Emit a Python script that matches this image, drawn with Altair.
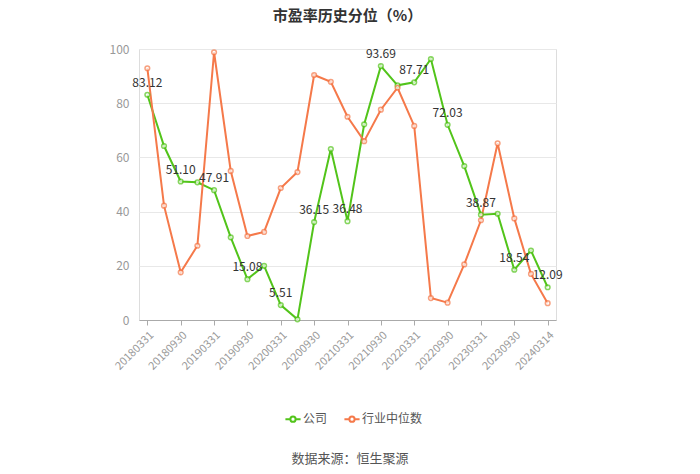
import altair as alt
import pandas as pd

dates = ["20180331", "20180630", "20180930", "20181231",
         "20190331", "20190630", "20190930", "20191231",
         "20200331", "20200630", "20200930", "20201231",
         "20210331", "20210630", "20210930", "20211231",
         "20220331", "20220630", "20220930", "20221231",
         "20230331", "20230630", "20230930", "20231231",
         "20240314"]

company = [83.12, 64.2, 51.10, 50.8, 47.91, 30.5, 15.08, 20.0, 5.51, 0.26,
           36.15, 63.1, 36.48, 72.2, 93.69, 86.6, 87.71, 96.3, 72.03, 56.8,
           38.87, 39.2, 18.54, 25.6, 12.09]

industry = [92.9, 42.2, 17.6, 27.4, 98.8, 55.0, 31.0, 32.5, 48.7, 54.6,
            90.4, 87.9, 75.0, 66.0, 77.6, 85.7, 71.6, 8.1, 6.4, 20.5,
            36.8, 65.2, 37.5, 17.0, 6.2]

series_names = ["公司", "行业中位数"]
colors = ["#52c41a", "#f5794a"]
tick_labels = dates[::2]

FONT = "Noto Sans CJK SC"
W, H = 417, 271

rows = []
for i, d in enumerate(dates):
    rows.append({"date": d, "value": company[i], "series": series_names[0], "idx": i})
for i, d in enumerate(dates):
    rows.append({"date": d, "value": industry[i], "series": series_names[1], "idx": i})
df = pd.DataFrame(rows)

label_df = pd.DataFrame({
    "date": [dates[i] for i in range(0, len(dates), 2)],
    "value": [company[i] for i in range(0, len(dates), 2)],
    "label": [f"{company[i]:.2f}" for i in range(0, len(dates), 2)],
})

legend_symbol = ("M-1.6,0L-0.55,0M0.55,0L1.6,0"
                 "M-0.55,0A0.55,0.55 0 1,0 0.55,0A0.55,0.55 0 1,0 -0.55,0")

x_enc = alt.X("date:N", sort=dates,
              scale=alt.Scale(type="point", padding=0.5),
              axis=alt.Axis(title=None, values=tick_labels, labelAngle=-45,
                            labelColor="#999", labelFontSize=11, labelFont=FONT,
                            domainColor="#aaa", tickColor="#aaa", tickSize=5,
                            labelPadding=4, grid=False))
y_enc = alt.Y("value:Q", scale=alt.Scale(domain=[0, 100]),
              axis=alt.Axis(title=None, values=[0, 20, 40, 60, 80, 100],
                            labelColor="#999", labelFontSize=12, labelFont=FONT,
                            domain=False, ticks=False, gridColor="#e8e8e8",
                            labelPadding=10))

legend = alt.Legend(title=None, orient="none", direction="horizontal",
                    legendX=148, legendY=364,
                    symbolType=legend_symbol, symbolSize=90,
                    symbolStrokeWidth=2, symbolFillColor="white",
                    labelFont=FONT, labelFontSize=12, labelColor="#555",
                    columnPadding=12, symbolOffset=0)

color_enc = alt.Color("series:N", scale=alt.Scale(domain=series_names, range=colors),
                      legend=legend)

base = alt.Chart(df)

lines = base.mark_line(strokeWidth=2).encode(
    x=x_enc, y=y_enc, color=color_enc, order="idx:Q")

points = base.mark_point(shape="circle", size=22, filled=True, fill="white",
                         strokeWidth=1.5).encode(
    x=x_enc, y=y_enc,
    stroke=alt.Stroke("series:N", scale=alt.Scale(domain=series_names, range=colors),
                      legend=None))

labels = alt.Chart(label_df).mark_text(dy=-12, fontSize=12, font=FONT,
                                       color="#333").encode(
    x=alt.X("date:N", sort=dates, scale=alt.Scale(type="point", padding=0.5)),
    y=alt.Y("value:Q", scale=alt.Scale(domain=[0, 100])),
    text="label:N")

footer = alt.Chart(pd.DataFrame({"t": ["数据来源：恒生聚源"]})).mark_text(
    fontSize=13, font=FONT, color="#555").encode(
    x=alt.value(211), y=alt.value(410), text="t:N")

chart = alt.layer(lines, points, labels, footer).properties(
    width=W, height=H,
    title=alt.TitleParams("市盈率历史分位（%）", font=FONT, fontSize=15,
                          fontWeight="bold", color="#333", anchor="middle",
                          offset=19),
    autosize=alt.AutoSizeParams(type="none"),
    padding={"left": 139, "top": 49, "right": 144, "bottom": 154},
).configure_view(stroke=None).configure(background="white")

chart.save("out.html", embed_options={"renderer": "svg", "actions": False})
